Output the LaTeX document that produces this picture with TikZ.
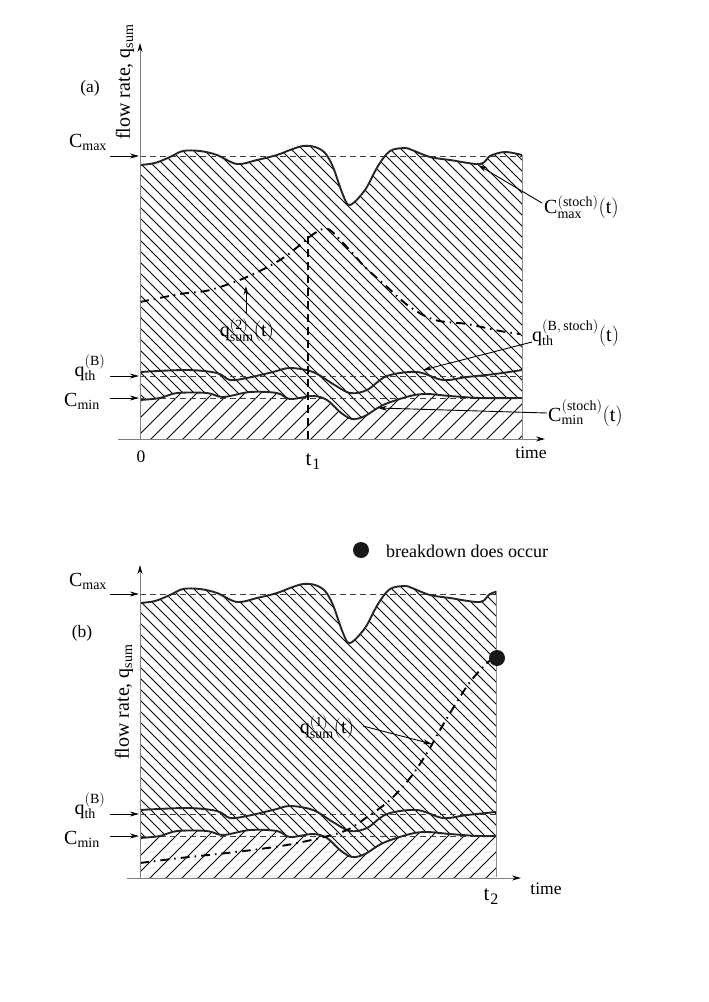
\documentclass[tikz,border=0pt]{standalone}
\usepackage{fontspec}
\setmainfont{Liberation Serif}
\usetikzlibrary{arrows.meta}
\newcommand\mr[1]{\mathrm{#1}}
\def\cmaxpath{plot[smooth,tension=0.55] coordinates {(140,165) (155,163) (170,157) (183,151) (200,151) (217,155) (237,164) (257,160) (277,155) (290,150) (303,146) (315,147) (325,153) (333,167) (343,195) (350,205) (365,190) (378,166) (390,151) (405,148) (412,150) (430,157) (450,160) (480,164) (490,156) (505,152) (522,155)}}
\def\qthpath{plot[smooth,tension=0.55] coordinates {(140,372) (187,370) (217,373) (230,380) (247,378) (273,372) (290,368) (313,372) (333,384) (350,393) (367,390) (387,376) (417,372) (443,380) (467,377) (495,374) (522,370)}}
\def\cminpath{plot[smooth,tension=0.55] coordinates {(140,400) (160,398) (177,393) (207,393) (223,397) (250,392) (277,393) (290,399) (313,396) (327,400) (340,412) (352,419) (365,416) (383,405) (410,396) (427,394) (450,396) (480,398) (522,398)}}
\newcommand\drawpanel[2]{% #1 right x, #2 top of boundary
  \begin{scope}
    \clip (140,100) rectangle (#1,439);
    \begin{scope}
      \clip \cmaxpath -- (600,460) -- (100,460) -- cycle;
      \clip \cminpath -- (600,100) -- (100,100) -- cycle;
      \foreach \k in {-30,...,36} \draw[hatch] ({140+\k*11},130) -- ++(330,330);
    \end{scope}
    \begin{scope}
      \clip \cminpath -- (600,460) -- (100,460) -- cycle;
      \foreach \k in {-6,...,28} \draw[hatch] ({140+\k*16},450) -- ++(330,-330);
    \end{scope}
    \draw[refl] (140,156) -- (#1,156);
    \draw[refl] (140,376) -- (#1,376);
    \draw[refl] (140,398) -- (#1,398);
    \draw[curve] \cmaxpath;
    \draw[curve] \qthpath;
    \draw[curve] \cminpath;
  \end{scope}
  \draw[bound] (#1,#2) -- (#1,439);
}
\begin{document}
\begin{tikzpicture}[x=1pt,y=-1pt,
  hatch/.style={line width=0.85pt,black},
  refl/.style={line width=0.7pt,black!75,dash pattern=on 6pt off 4pt},
  curve/.style={line width=1.9pt,black!85,line join=round},
  qsum/.style={line width=1.9pt,black,dash pattern=on 9pt off 5pt on 1.5pt off 5pt},
  axis/.style={line width=1pt,black!50},
  bound/.style={line width=0.6pt,black!45},
  tip/.style={-{Stealth[length=9pt,width=5pt,black]}},
  lead/.style={line width=0.9pt,black,-{Stealth[length=9pt,width=5pt]}},
  lbl/.style={font=\fontsize{20}{22}\selectfont,inner sep=0pt},
  sm/.style={font=\fontsize{17.5}{20}\selectfont,inner sep=0pt}]
\useasboundingbox (0,0) rectangle (709,1002);

% ===== panel (a) =====
\drawpanel{522}{155}
\draw[qsum] plot[smooth,tension=0.55] coordinates {(140,302) (180,294) (210,290) (247,277) (280,260) (300,245) (315,233) (328,229) (345,245) (365,267) (385,285) (410,307) (435,320) (467,324) (500,331) (520,334)};
\draw[line width=1.2pt,black,dash pattern=on 8pt off 5pt] (308,236) -- (308,439);
\draw[axis,tip] (140,439) -- (140,43);
\draw[axis,tip] (118,439) -- (545,439);

\node[sm] (la) at (90,88) {(a)};
\node[lbl,rotate=90] (ylabA) at (125,82) {flow rate, $\mr{q}_{\mr{sum}}$};
\node[lbl] (cmaxA) at (88,142) {$\mr{C}_{\mr{max}}$};
\node[lbl] (qthA) at (90,368) {$\mr{q}^{\mr{(B)}}_{\mr{th}}$};
\node[lbl] (cminA) at (82,401) {$\mr{C}_{\mr{min}}$};
\coordinate (acmax0) at (110,156); \coordinate (acmax1) at (139,156);
\coordinate (aqth0) at (110,376); \coordinate (aqth1) at (139,376);
\coordinate (acmin0) at (110,398); \coordinate (acmin1) at (139,398);
\draw[lead] (acmax0) -- (acmax1);
\draw[lead] (aqth0) -- (aqth1);
\draw[lead] (acmin0) -- (acmin1);
\node[sm] (zero) at (141,457) {0};
\node[inner sep=0pt] (t1) at (313,462) {\fontsize{21}{24}\selectfont t\kern1pt\raisebox{-4pt}{\fontsize{16}{18}\selectfont 1}};
\node[sm] (timeA) at (531,453) {time};

\node[lbl,anchor=west] (cmaxS) at (544,207) {$\mr{C}^{\mr{(stoch)}}_{\mr{max}}\mr{(t)}$};
\node[lbl,anchor=west] (qthS) at (532,333) {$\mr{q}^{\mr{(B,\,stoch)}}_{\mr{th}}\mr{(t)}$};
\node[lbl,anchor=west] (cminS) at (548,413) {$\mr{C}^{\mr{(stoch)}}_{\mr{min}}\mr{(t)}$};
\node[lbl] (qsum2) at (247,330) {$\mr{q}^{\mr{(2)}}_{\mr{sum}}\mr{(t)}$};
\coordinate (cmaxSt) at (478,165);
\coordinate (qthSt) at (423,370);
\coordinate (cminSt) at (378,408);
\coordinate (qsum2t) at (246,286);
\draw[lead] (542,203) -- (cmaxSt);
\draw[lead] (532,342) -- (qthSt);
\draw[lead] (547,413) -- (cminSt);
\draw[lead] (246,314) -- (qsum2t);

% ===== panel (b) =====
\begin{scope}[yshift=-438pt]
\drawpanel{496}{153}
\end{scope}
\draw[qsum] plot[smooth,tension=0.55] coordinates {(140,863) (180,858) (227,853) (260,849) (287,845) (320,838) (347,830) (370,815) (390,800) (410,778) (427,753) (440,730) (455,705) (470,682) (488,662) (497,658)};
\draw[axis,tip] (140,878) -- (140,565);
\draw[axis,tip] (127,878) -- (521,878);
\fill[black!90] (497,658) circle (8);

\node[sm] (lb) at (82,633) {(b)};
\node[lbl,rotate=90] (ylabB) at (124,702) {flow rate, $\mr{q}_{\mr{sum}}$};
\node[lbl] (cmaxB) at (88,581) {$\mr{C}_{\mr{max}}$};
\node[lbl] (qthB) at (90,806) {$\mr{q}^{\mr{(B)}}_{\mr{th}}$};
\node[lbl] (cminB) at (82,839) {$\mr{C}_{\mr{min}}$};
\coordinate (bcmax0) at (110,594); \coordinate (bcmax1) at (139,594);
\coordinate (bqth0) at (110,814); \coordinate (bqth1) at (139,814);
\coordinate (bcmin0) at (110,836); \coordinate (bcmin1) at (139,836);
\draw[lead] (bcmax0) -- (bcmax1);
\draw[lead] (bqth0) -- (bqth1);
\draw[lead] (bcmin0) -- (bcmin1);
\node[inner sep=0pt] (t2) at (491,897) {\fontsize{21}{24}\selectfont t\kern1pt\raisebox{-4pt}{\fontsize{16}{18}\selectfont 2}};
\node[sm] (timeB) at (546,889) {time};
\node[lbl] (qsum1) at (327,727) {$\mr{q}^{\mr{(1)}}_{\mr{sum}}\mr{(t)}$};
\coordinate (qsum1t) at (432,744);
\draw[lead] (363,726) -- (qsum1t);

\fill[black!90] (361,550) circle (8);
\node[font=\fontsize{18}{20}\selectfont,inner sep=0pt,anchor=west] (legend) at (386,551) {breakdown does occur};
\end{tikzpicture}
\end{document}
